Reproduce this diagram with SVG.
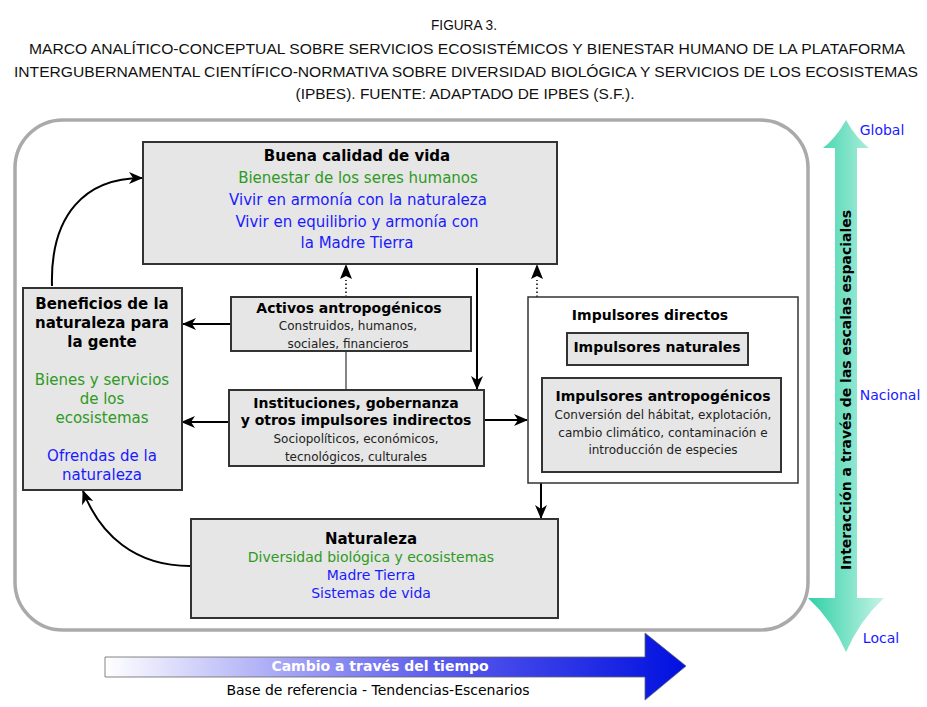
<svg xmlns="http://www.w3.org/2000/svg" width="927" height="707" viewBox="0 0 927 707">
<defs>
<style>
.title{font-family:"Liberation Sans",Arial,sans-serif;font-size:15px;fill:#111;text-anchor:middle}
.box{fill:#e6e6e6;stroke:#333;stroke-width:2}
.b{font-family:"DejaVu Sans",Verdana,sans-serif;font-weight:bold;fill:#000;text-anchor:middle}
.t{font-family:"DejaVu Sans",Verdana,sans-serif;text-anchor:middle}
.g{fill:#2e9a1e}
.bl{fill:#1a1aff}
.k{fill:#222}
.con{fill:none;stroke:#000;stroke-width:2}
.dot{fill:none;stroke:#000;stroke-width:1.5;stroke-dasharray:1.5 2.5}
</style>
<marker id="ah" markerWidth="14" markerHeight="14" refX="13" refY="7" orient="auto" markerUnits="userSpaceOnUse">
<path d="M0,1 L14,7 L0,13 L4,7 z" fill="#000"/>
</marker>
<linearGradient id="tealg" x1="0" y1="0" x2="1" y2="0">
<stop offset="0" stop-color="#2fd0a6"/>
<stop offset="1" stop-color="#c6f4e6"/>
</linearGradient>
<linearGradient id="blueg" x1="0" y1="0" x2="1" y2="0">
<stop offset="0" stop-color="#ffffff"/>
<stop offset="0.55" stop-color="#6060ee"/>
<stop offset="1" stop-color="#0010e0"/>
</linearGradient>
</defs>
<rect width="927" height="707" fill="#fff"/>

<g id="title">
<text class="title" x="464" y="30" textLength="66" lengthAdjust="spacingAndGlyphs">FIGURA 3.</text>
<text class="title" x="467" y="54" textLength="876" lengthAdjust="spacingAndGlyphs">MARCO ANALÍTICO-CONCEPTUAL SOBRE SERVICIOS ECOSISTÉMICOS Y BIENESTAR HUMANO DE LA PLATAFORMA</text>
<text class="title" x="466" y="77" textLength="904" lengthAdjust="spacingAndGlyphs">INTERGUBERNAMENTAL CIENTÍFICO-NORMATIVA SOBRE DIVERSIDAD BIOLÓGICA Y SERVICIOS DE LOS ECOSISTEMAS</text>
<text class="title" x="465" y="99" textLength="339" lengthAdjust="spacingAndGlyphs">(IPBES). FUENTE: ADAPTADO DE IPBES (S.F.).</text>
</g>

<rect id="frame" x="15" y="120" width="793" height="510" rx="48" ry="48" fill="none" stroke="#aaa" stroke-width="3.5"/>

<g id="connectors">
<path class="con" d="M52,286 C50,215 85,178 142,178" marker-end="url(#ah)"/>
<path class="con" d="M190,566 C135,566 100,535 83,491" marker-end="url(#ah)"/>
<line class="con" x1="231" y1="324" x2="183" y2="324" marker-end="url(#ah)"/>
<line class="con" x1="229" y1="422" x2="182" y2="422" marker-end="url(#ah)"/>
<line class="con" x1="484" y1="420" x2="527" y2="420" marker-end="url(#ah)"/>
<line class="con" x1="477" y1="268" x2="477" y2="389" marker-end="url(#ah)"/>
<line class="con" x1="541" y1="483" x2="541" y2="518" marker-end="url(#ah)"/>
<line x1="346" y1="351" x2="346" y2="390" stroke="#333" stroke-width="1.2"/>
<line class="dot" x1="346" y1="297" x2="346" y2="280"/>
<path d="M346,264 L352,279 L346,276 L340,279 z" fill="#000"/>
<line class="dot" x1="537" y1="297" x2="537" y2="280"/>
<path d="M537,264 L543,279 L537,276 L531,279 z" fill="#000"/>
</g>

<g id="buena">
<rect class="box" x="143" y="142" width="414" height="122"/>
<text class="b" x="357" y="161" font-size="15">Buena calidad de vida</text>
<text class="t g" x="358" y="183" font-size="15">Bienestar de los seres humanos</text>
<text class="t bl" x="358" y="205" font-size="15">Vivir en armonía con la naturaleza</text>
<text class="t bl" x="357" y="227" font-size="15">Vivir en equilibrio y armonía con</text>
<text class="t bl" x="357" y="248" font-size="15">la Madre Tierra</text>
</g>

<g id="beneficios">
<rect class="box" x="23" y="288" width="159" height="202"/>
<text class="b" x="102" y="309" font-size="15">Beneficios de la</text>
<text class="b" x="102" y="328" font-size="15">naturaleza para</text>
<text class="b" x="102" y="347" font-size="15">la gente</text>
<text class="t g" x="102" y="385" font-size="15">Bienes y servicios</text>
<text class="t g" x="102" y="404" font-size="15">de los</text>
<text class="t g" x="102" y="423" font-size="15">ecosistemas</text>
<text class="t bl" x="102" y="461" font-size="15">Ofrendas de la</text>
<text class="t bl" x="102" y="480" font-size="15">naturaleza</text>
</g>

<g id="activos">
<rect class="box" x="231" y="297" width="240" height="54"/>
<text class="b" x="349" y="313" font-size="14">Activos antropogénicos</text>
<text class="t k" x="348" y="330" font-size="12">Construidos, humanos,</text>
<text class="t k" x="348" y="348" font-size="12">sociales, financieros</text>
</g>

<g id="instituciones">
<rect class="box" x="229" y="390" width="255" height="76"/>
<text class="b" x="356" y="408" font-size="14">Instituciones, gobernanza</text>
<text class="b" x="356" y="425" font-size="14">y otros impulsores indirectos</text>
<text class="t k" x="356" y="443" font-size="12">Sociopolíticos, económicos,</text>
<text class="t k" x="356" y="461" font-size="12">tecnológicos, culturales</text>
</g>

<g id="impulsores-directos">
<rect x="528" y="297" width="270" height="186" fill="#fff" stroke="#333" stroke-width="1.5"/>
<text class="b" x="650" y="320" font-size="14">Impulsores directos</text>
</g>

<g id="impulsores-naturales">
<rect class="box" x="567" y="333" width="181" height="32"/>
<text class="b" x="657" y="352" font-size="14">Impulsores naturales</text>
</g>

<g id="impulsores-antropogenicos">
<rect class="box" x="542" y="378" width="239" height="94"/>
<text class="b" x="663" y="401" font-size="14">Impulsores antropogénicos</text>
<text class="t k" x="663" y="419" font-size="12">Conversión del hábitat, explotación,</text>
<text class="t k" x="663" y="437" font-size="12">cambio climático, contaminación e</text>
<text class="t k" x="663" y="454" font-size="12">introducción de especies</text>
</g>

<g id="naturaleza">
<rect class="box" x="191" y="519" width="367" height="99"/>
<text class="b" x="371" y="544" font-size="15">Naturaleza</text>
<text class="t g" x="371" y="562" font-size="14">Diversidad biológica y ecosistemas</text>
<text class="t bl" x="371" y="580" font-size="14">Madre Tierra</text>
<text class="t bl" x="371" y="598" font-size="14">Sistemas de vida</text>
</g>

<g id="escalas">
<path d="M846,120 Q836,138 823,148 L835,148 L835,598 Q822,598 808,598 Q832,620 846,652 Q860,620 884,598 Q870,598 857,598 L857,148 L869,148 Q856,138 846,120 z" fill="url(#tealg)"/>
<text class="b" transform="translate(851,390) rotate(-90)" font-size="14">Interacción a través de las escalas espaciales</text>
<text class="t bl" x="882" y="135" font-size="14">Global</text>
<text class="t bl" x="890" y="400" font-size="14">Nacional</text>
<text class="t bl" x="881" y="643" font-size="14">Local</text>
</g>

<g id="tiempo">
<path d="M105,657 L645,657 L645,633 L686,666 L645,700 L645,677 L105,677 z" fill="url(#blueg)" stroke="#666" stroke-width="0.8"/>
<text class="b" x="380" y="671" font-size="14" style="fill:#fff">Cambio a través del tiempo</text>
<text class="t" x="378" y="695" font-size="14" fill="#000">Base de referencia - Tendencias-Escenarios</text>
</g>
</svg>
